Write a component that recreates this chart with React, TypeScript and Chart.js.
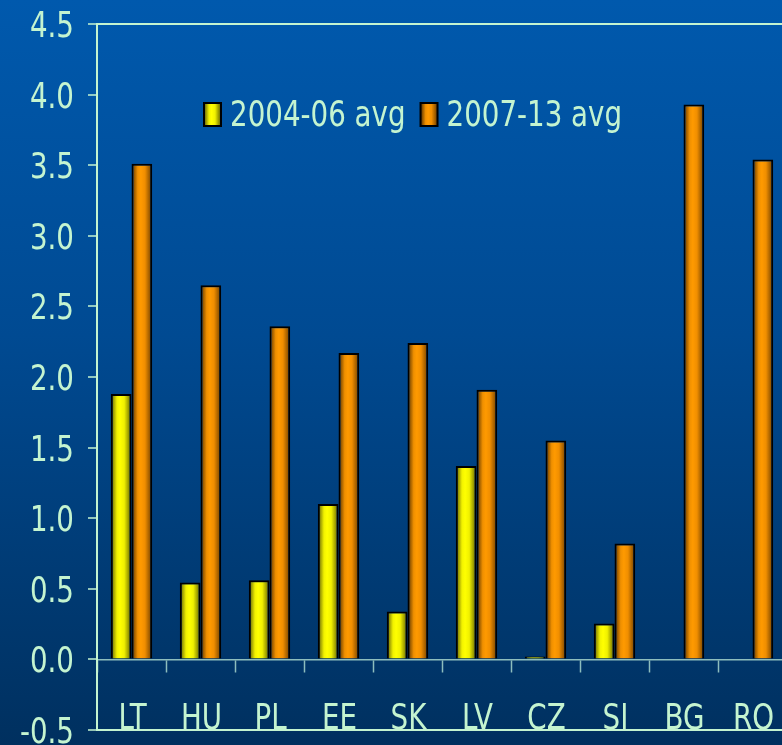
import { useEffect, useRef } from "react";
import { Chart, registerables } from "chart.js";

Chart.register(...registerables);

// Countries and the two period averages
const countries = ["LT", "HU", "PL", "EE", "SK", "LV", "CZ", "SI", "BG", "RO"];
const avg2004to06 = [1.88, 0.545, 0.56, 1.1, 0.34, 1.37, 0.02, 0.255, null, null];
const avg2007to13 = [3.51, 2.65, 2.36, 2.17, 2.24, 1.91, 1.55, 0.82, 3.93, 3.54];
const seriesLabels = ["2004-06 avg", "2007-13 avg"];
const yTickValues = [-0.5, 0, 0.5, 1, 1.5, 2, 2.5, 3, 3.5, 4, 4.5];

const MINT = "#c4f4d0";
const ZERO_LINE = "rgba(176, 224, 210, 0.8)";
const FONT_FAMILY = "'DejaVu Sans Condensed', 'DejaVu Sans', sans-serif";
const FONT_SIZE = 35;
const TEXT_SQUEEZE = 0.88; // narrow, tall lettering
const CAP_HALF = 13;
const CATEGORY_PCT = 0.6;

// Canvas is larger than the visible frame so labels may run off its edges
const CANVAS_W = 820;
const CANVAS_H = 806;
const CANVAS_SHIFT = 26;

// Horizontal shading for each series: dark edges, bright centre
const SHADES: [number, string][][] = [
  [
    [0, "#55550a"],
    [0.3, "#f2f200"],
    [0.45, "#ffff00"],
    [0.65, "#f0f000"],
    [1, "#5c5c00"],
  ],
  [
    [0, "#4e2c00"],
    [0.3, "#f09000"],
    [0.45, "#ff9a00"],
    [0.65, "#f08e00"],
    [1, "#6a3c00"],
  ],
];
const SOLID = ["#ffff00", "#ff9900"];

function shade(ctx: CanvasRenderingContext2D, left: number, width: number, series: number) {
  const g = ctx.createLinearGradient(left, 0, left + width, 0);
  for (const [stop, color] of SHADES[series]) g.addColorStop(stop, color);
  return g;
}

function barFill(c: any) {
  const chart = c.chart;
  const xs = chart.scales?.x;
  if (c.type !== "data" || !xs || !chart.chartArea) return SOLID[c.datasetIndex ?? 0];
  const center = xs.getPixelForValue(c.dataIndex);
  const w = ((xs.width / countries.length) * CATEGORY_PCT) / 2;
  const left = c.datasetIndex === 0 ? center - w : center;
  return shade(chart.ctx, left, w, c.datasetIndex);
}

// Text drawn with a horizontal squeeze; returns the drawn width
function squeezedText(
  ctx: CanvasRenderingContext2D,
  text: string,
  x: number,
  y: number,
  align: "left" | "right" | "center"
) {
  const w = ctx.measureText(text).width * TEXT_SQUEEZE;
  const start = align === "left" ? x : align === "right" ? x - w : x - w / 2;
  ctx.save();
  ctx.translate(start, y);
  ctx.scale(TEXT_SQUEEZE, 1);
  ctx.textAlign = "left";
  ctx.textBaseline = "alphabetic";
  ctx.fillText(text, 0, 0);
  ctx.restore();
  return w;
}

// Axis labels placed from the chart's own scales
const axisLabels = {
  id: "axisLabels",
  afterDraw(chart: any) {
    const ctx: CanvasRenderingContext2D = chart.ctx;
    const xs = chart.scales.x;
    const ys = chart.scales.y;
    const area = chart.chartArea;
    ctx.save();
    ctx.font = `${FONT_SIZE}px ${FONT_FAMILY}`;
    ctx.fillStyle = MINT;
    yTickValues.forEach((v) => {
      squeezedText(ctx, v.toFixed(1), area.left - 23, ys.getPixelForValue(v) + CAP_HALF, "right");
    });
    const labelBase = ys.getPixelForValue(-0.5) - 1;
    countries.forEach((c, i) => {
      squeezedText(ctx, c, xs.getPixelForValue(i) + 1, labelBase, "center");
    });
    ctx.restore();
  },
};

// Legend drawn inside the plot, near the top
const insideLegend = {
  id: "insideLegend",
  afterDraw(chart: any) {
    const ctx: CanvasRenderingContext2D = chart.ctx;
    const area = chart.chartArea;
    let x = area.left + 107;
    const boxTop = area.top + 79;
    const boxW = 17;
    const boxH = 23;
    ctx.save();
    ctx.font = `${FONT_SIZE}px ${FONT_FAMILY}`;
    chart.data.datasets.forEach((ds: any, i: number) => {
      ctx.fillStyle = shade(ctx, x, boxW, i);
      ctx.fillRect(x, boxTop, boxW, boxH);
      ctx.lineWidth = 2;
      ctx.strokeStyle = "#000";
      ctx.strokeRect(x, boxTop, boxW, boxH);
      x += boxW + 9;
      ctx.fillStyle = MINT;
      x += squeezedText(ctx, ds.label, x, boxTop + boxH, "left") + 15;
    });
    ctx.restore();
  },
};

export default function App() {
  const canvasRef = useRef<HTMLCanvasElement | null>(null);

  useEffect(() => {
    if (!canvasRef.current) return;
    const chart = new Chart(canvasRef.current, {
      type: "bar",
      data: {
        labels: countries,
        datasets: [
          {
            label: seriesLabels[0],
            data: avg2004to06,
            backgroundColor: barFill,
            borderColor: "#000",
            borderWidth: 2,
            categoryPercentage: CATEGORY_PCT,
            barPercentage: 1,
          },
          {
            label: seriesLabels[1],
            data: avg2007to13,
            backgroundColor: barFill,
            borderColor: "#000",
            borderWidth: 2,
            categoryPercentage: CATEGORY_PCT,
            barPercentage: 1,
          },
        ],
      },
      options: {
        responsive: false,
        animation: false,
        devicePixelRatio: 1,
        layout: { padding: { top: 24 + CANVAS_SHIFT, right: 33, bottom: CANVAS_H - 730 - CANVAS_SHIFT, left: 0 } },
        plugins: {
          legend: { display: false },
          tooltip: { enabled: false },
        },
        scales: {
          x: {
            type: "category",
            position: { y: 0 } as any,
            grid: {
              offset: true,
              drawOnChartArea: false,
              tickLength: 12,
              tickColor: ZERO_LINE,
              tickWidth: 1.5,
            },
            border: { display: true, color: ZERO_LINE, width: 1.5 },
            ticks: { display: false, autoSkip: false },
          },
          y: {
            min: -0.5,
            max: 4.5,
            afterBuildTicks: (scale: any) => {
              scale.ticks = yTickValues.map((v) => ({ value: v }));
            },
            afterFit: (scale: any) => {
              scale.width = 97;
            },
            grid: {
              drawOnChartArea: true,
              color: (c: any) =>
                c.tick && (c.tick.value === 4.5 || c.tick.value === -0.5) ? MINT : "rgba(0,0,0,0)",
              lineWidth: 2,
              tickColor: MINT,
              tickLength: 9,
              tickWidth: 1.5,
            },
            border: { display: true, color: MINT, width: 2 },
            ticks: { display: false },
          },
        },
      },
      plugins: [axisLabels, insideLegend],
    });
    return () => chart.destroy();
  }, []);

  return (
    <div
      style={{
        position: "absolute",
        left: 0,
        top: 0,
        width: 782,
        height: 745,
        overflow: "hidden",
        background: "linear-gradient(to bottom, #0059ad 0%, #004a92 45%, #00305f 100%)",
      }}
    >
      <canvas
        ref={canvasRef}
        width={CANVAS_W}
        height={CANVAS_H}
        style={{ display: "block", marginTop: -CANVAS_SHIFT }}
      />
    </div>
  );
}
